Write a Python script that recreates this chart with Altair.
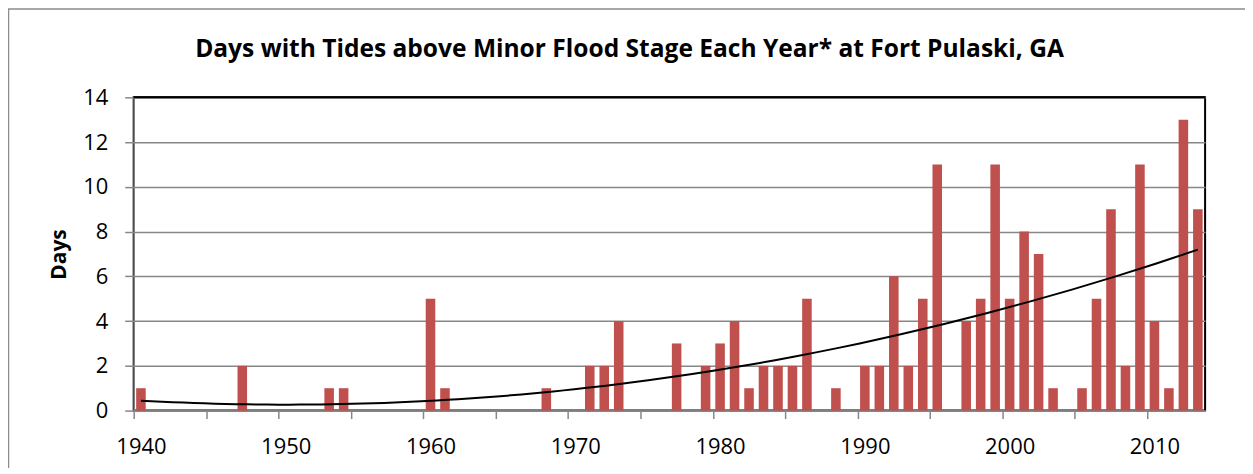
import altair as alt
import pandas as pd

# ---- data ----
years = list(range(1940, 2014))
days = [
    1, 0, 0, 0, 0, 0, 0, 2, 0, 0,      # 1940-1949
    0, 0, 0, 1, 1, 0, 0, 0, 0, 0,      # 1950-1959
    5, 1, 0, 0, 0, 0, 0, 0, 1, 0,      # 1960-1969
    0, 2, 2, 4, 0, 0, 0, 3, 0, 2,      # 1970-1979
    3, 4, 1, 2, 2, 2, 5, 0, 1, 0,      # 1980-1989
    2, 2, 6, 2, 5, 11, 0, 4, 5, 11,    # 1990-1999
    5, 8, 7, 1, 0, 1, 5, 9, 2, 11,     # 2000-2009
    4, 1, 13, 9,                       # 2010-2013
]
x_tick_years = list(range(1940, 2014, 5))
y_ticks = [0, 2, 4, 6, 8, 10, 12, 14]
title_text = "Days with Tides above Minor Flood Stage Each Year* at Fort Pulaski, GA"
y_title = "Days"

df = pd.DataFrame({"year": years, "days": days})

W, H = 1074, 314
FONT = "Open Sans"
BAR = "#C0504D"
GRAY = "#878787"
half_band = W / len(years) / 2

x_scale = alt.Scale(domain=[1939.5, 2013.5], nice=False, zero=False)
y_scale = alt.Scale(domain=[0, 14], nice=False, zero=True)

x_axis = alt.Axis(
    values=x_tick_years,
    format="d",
    labelExpr="datum.value % 10 == 0 ? datum.label : ''",
    tickOffset=-half_band,
    labelOffset=half_band,
    grid=False,
    title=None,
    tickSize=8,
    labelPadding=18,
    labelOverlap=False,
)
y_axis = alt.Axis(
    values=y_ticks,
    title=y_title,
    tickSize=9,
    labelPadding=17,
    titlePadding=13,
    titleFont=FONT,
    titleFontSize=21,
    titleFontWeight="bold",
    titleColor="black",
    grid=True,
    gridColor=GRAY,
    gridWidth=1.5,
)

base = alt.Chart(df)

bars = (
    base.transform_filter("datum.days > 0")
    .transform_calculate(x0="datum.year - 0.33", x1="datum.year + 0.33")
    .mark_bar(color=BAR)
    .encode(
        x=alt.X("x0:Q", scale=x_scale, axis=x_axis),
        x2="x1:Q",
        y=alt.Y("days:Q", scale=y_scale, axis=y_axis),
        y2=alt.datum(0),
    )
)

trend = (
    base.transform_regression(on="year", regression="days", method="poly", order=2, extent=[1940, 2013])
    .mark_line(color="black", strokeWidth=2)
    .encode(
        x=alt.X("year:Q", scale=x_scale, axis=x_axis),
        y=alt.Y("days:Q", scale=y_scale, axis=y_axis),
    )
)

# top border of the plot area (drawn over the top gridline)
top_edge = (
    alt.Chart(pd.DataFrame({"f": [0]}))
    .mark_rule(color="black", strokeWidth=2)
    .encode(x=alt.value(0), x2=alt.value(W), y=alt.value(0))
)

frame = (
    alt.Chart(pd.DataFrame({"f": [0]}))
    .mark_rect(fill="transparent", stroke="#8c8c8c", strokeWidth=1.5)
    .encode(
        x=alt.value(-125.5),
        y=alt.value(-88.5),
        x2=alt.value(W + 400),
        y2=alt.value(H + 400),
    )
)

chart = (
    alt.layer(frame, bars, trend, top_edge)
    .properties(
        width=W,
        height=H,
        autosize=alt.AutoSizeParams(type="none"),
        padding={"left": 126, "top": 89, "right": 40, "bottom": 57},
        title=alt.TitleParams(
            text=title_text,
            font=FONT,
            fontSize=24.6,
            fontWeight="bold",
            color="black",
            anchor="middle",
            baseline="alphabetic",
            dx=-40,
            offset=0,
            dy=73,
        ),
    )
    .configure_view(stroke="black", strokeWidth=2)
    .configure_axis(
        labelFont=FONT,
        labelFontSize=22,
        labelColor="black",
        domainColor=GRAY,
        domainWidth=1.5,
        tickColor=GRAY,
        tickWidth=1.5,
    )
)

chart.save("out.html", embed_options={"renderer": "svg", "actions": False})
